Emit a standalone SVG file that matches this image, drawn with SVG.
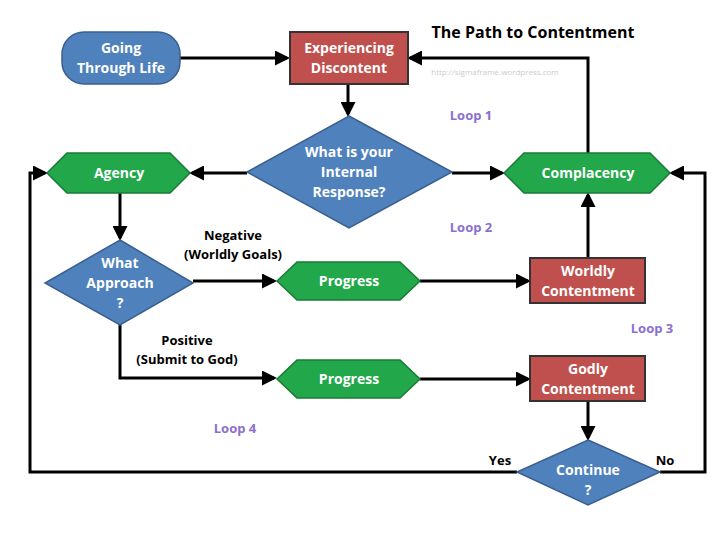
<svg xmlns="http://www.w3.org/2000/svg" width="720" height="539" viewBox="0 0 720 539">
<defs>
<marker id="ah" markerWidth="5" markerHeight="5" refX="4" refY="2.5" orient="auto" markerUnits="strokeWidth"><path d="M0,0 L5,2.5 L0,5 z" fill="#000"/></marker>
<style>
text{font-family:"Open Sans","Liberation Sans",sans-serif;font-weight:bold;text-anchor:middle}
.w{fill:#fff;font-size:14px}
.k{fill:#000;font-size:13px}
.p{fill:#8a6fd0;font-size:13px}
.blue{fill:#4f81bd;stroke:#3a5f8f;stroke-width:1.5}
.red{fill:#c0504d;stroke:#333;stroke-width:2}
.grn{fill:#22a84a;stroke:#1a7a35;stroke-width:1.5}
.c{fill:none;stroke:#000;stroke-width:3;marker-end:url(#ah)}
.cn{fill:none;stroke:#000;stroke-width:3}
</style>
</defs>
<rect width="720" height="539" fill="#fff"/>
<text x="533" y="38" style="font-size:16px" fill="#000">The Path to Contentment</text>
<text x="495" y="75" style="font-size:8px;font-weight:normal" fill="#ccc">http://sigmaframe.wordpress.com</text>
<g id="connectors">
<path class="c" d="M180,58 H287"/>
<path class="c" d="M348,84 V114"/>
<path class="c" d="M452,173 H502"/>
<path class="c" d="M588,153 V58 H410"/>
<path class="c" d="M247,173 H192"/>
<path class="c" d="M120,193 V238"/>
<path class="c" d="M193,281 H274"/>
<path class="c" d="M420,281 H528"/>
<path class="c" d="M588,258 V195"/>
<path class="c" d="M120,325 V378 H274"/>
<path class="c" d="M420,379 H528"/>
<path class="c" d="M588,401 V438"/>
<path class="c" d="M517,472 H30 V173 H45"/>
<path class="c" d="M660,472 H705 V173 H672"/>
</g>
<g id="going"><rect class="blue" x="62" y="32" width="118" height="52" rx="22"/><text class="w" x="121" y="53">Going</text><text class="w" x="121" y="73">Through Life</text></g>
<g id="discontent"><rect class="red" x="290" y="32" width="118" height="52"/><text class="w" x="349" y="53">Experiencing</text><text class="w" x="349" y="73">Discontent</text></g>
<g id="response"><polygon class="blue" points="349,116 452,172 349,228 247,172"/><text class="w" x="349" y="157">What is your</text><text class="w" x="349" y="177">Internal</text><text class="w" x="349" y="197">Response?</text></g>
<g id="complacency"><polygon class="grn" points="504,173 524,153 650,153 670,173 650,193 524,193"/><text class="w" x="588" y="178">Complacency</text></g>
<g id="agency"><polygon class="grn" points="47,173 67,153 170,153 190,173 170,193 67,193"/><text class="w" x="119" y="178">Agency</text></g>
<g id="approach"><polygon class="blue" points="120,240 193,283 120,325 45,283"/><text class="w" x="120" y="268">What</text><text class="w" x="120" y="288">Approach</text><text class="w" x="120" y="308">?</text></g>
<g id="progress1"><polygon class="grn" points="277,281 297,262 400,262 420,281 400,300 297,300"/><text class="w" x="349" y="286">Progress</text></g>
<g id="worldly"><rect class="red" x="530" y="258" width="115" height="45"/><text class="w" x="588" y="276">Worldly</text><text class="w" x="588" y="296">Contentment</text></g>
<g id="progress2"><polygon class="grn" points="277,379 297,360 400,360 420,379 400,398 297,398"/><text class="w" x="349" y="384">Progress</text></g>
<g id="godly"><rect class="red" x="530" y="356" width="115" height="45"/><text class="w" x="588" y="374">Godly</text><text class="w" x="588" y="394">Contentment</text></g>
<g id="continue"><polygon class="blue" points="588,440 660,472 588,505 517,472"/><text class="w" x="588" y="475">Continue</text><text class="w" x="588" y="495">?</text></g>
<g id="labels">
<text class="k" x="233" y="240">Negative</text><text class="k" x="233" y="259">(Worldly Goals)</text>
<text class="k" x="187" y="345">Positive</text><text class="k" x="187" y="364">(Submit to God)</text>
<text class="k" x="500" y="465">Yes</text><text class="k" x="665" y="465">No</text>
<text class="p" x="471" y="120">Loop 1</text><text class="p" x="471" y="232">Loop 2</text><text class="p" x="652" y="333">Loop 3</text><text class="p" x="235" y="433">Loop 4</text>
</g>
</svg>
